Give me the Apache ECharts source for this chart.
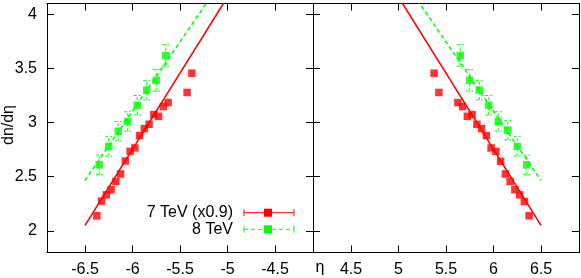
<!DOCTYPE html>
<html>
<head>
<meta charset="utf-8">
<script src="https://cdn.jsdelivr.net/npm/echarts@6/dist/echarts.min.js"></script>
<style>
html,body{margin:0;padding:0;background:#fff;}
#chart{width:581px;height:278px;}
</style>
</head>
<body>
<div id="chart"></div>
<script>
// ---- data ----
const ticksXLeft = [-6.5, -6, -5.5, -5, -4.5];
const ticksXRight = [4.5, 5, 5.5, 6, 6.5];
const ticksY = [2, 2.5, 3, 3.5, 4];

// 7 TeV (x0.9), left panel (negative eta)
const etaRedLeft = [-5.375, -5.425, -5.625, -5.675, -5.725, -5.775, -5.825, -5.875, -5.925, -5.975, -6.025, -6.075, -6.125, -6.175, -6.225, -6.275, -6.325, -6.375];
const dndetaRedLeft = [3.456, 3.278, 3.185, 3.148, 3.058, 3.074, 2.984, 2.944, 2.880, 2.766, 2.734, 2.645, 2.525, 2.456, 2.380, 2.333, 2.275, 2.139];
// 7 TeV (x0.9), right panel
const etaRedRight = [5.375, 5.425, 5.625, 5.675, 5.725, 5.775, 5.825, 5.875, 5.925, 5.975, 6.025, 6.075, 6.125, 6.175, 6.225, 6.275, 6.325, 6.375];
const dndetaRedRight = [3.456, 3.278, 3.185, 3.148, 3.058, 3.074, 2.984, 2.944, 2.880, 2.766, 2.734, 2.642, 2.525, 2.456, 2.380, 2.333, 2.271, 2.139];

// 8 TeV, left panel
const etaGreenLeft = [-5.65, -5.75, -5.85, -5.95, -6.05, -6.15, -6.25, -6.35];
const dndetaGreenLeft = [3.62, 3.39, 3.30, 3.16, 3.01, 2.92, 2.78, 2.61];
const errGreenLeft = [0.10, 0.10, 0.09, 0.09, 0.09, 0.09, 0.09, 0.09];
// 8 TeV, right panel
const etaGreenRight = [5.65, 5.75, 5.85, 5.95, 6.05, 6.15, 6.25, 6.35];
const dndetaGreenRight = [3.62, 3.39, 3.30, 3.16, 3.01, 2.93, 2.78, 2.61];
const errGreenRight = [0.10, 0.10, 0.09, 0.09, 0.09, 0.09, 0.09, 0.09];

// fitted lines (endpoints)
const fitRedLeft = [[-6.5, 2.05], [-5.0, 4.16]];
const fitGreenLeft = [[-6.5, 2.465], [-5.2, 4.13]];
const fitRedRight = [[5.0, 4.16], [6.5, 2.05]];
const fitGreenRight = [[5.2, 4.13], [6.5, 2.465]];

const legendLabels = ['7 TeV (x0.9)', '8 TeV'];
// -------------------------------------

const RED = '#ff0000', GREEN = '#00ff00';
const FONT = '"Liberation Sans", Arial, Helvetica, sans-serif';
const zip = (a, b) => a.map((v, i) => [v, b[i]]);
const errData = (e, y, err) => e.map((v, i) => [v, y[i] - err[i], y[i] + err[i]]);

function errRender(color) {
  return function (params, api) {
    const x = api.value(0), lo = api.value(1), hi = api.value(2);
    const a = api.coord([x, lo]), b = api.coord([x, hi]);
    const hw = 3.5;
    const st = {stroke: color, lineWidth: 1, lineDash: [3, 2]};
    return {type: 'group', children: [
      {type: 'line', shape: {x1: a[0], y1: a[1], x2: b[0], y2: b[1]}, style: st},
      {type: 'line', shape: {x1: a[0] - hw, y1: a[1], x2: a[0] + hw, y2: a[1]}, style: st},
      {type: 'line', shape: {x1: b[0] - hw, y1: b[1], x2: b[0] + hw, y2: b[1]}, style: st}
    ]};
  };
}

const axLine = {show: true, onZero: false, lineStyle: {color: '#000', width: 1}};
function xAx(grid, pos, min, max, ticks, labels) {
  return {
    type: 'value', gridIndex: grid, position: pos, min: min, max: max,
    axisLine: axLine,
    axisTick: {show: true, inside: true, length: 7, customValues: ticks, lineStyle: {color: '#000', width: 1}},
    axisLabel: {show: labels, customValues: ticks, margin: 9, color: '#000', fontSize: 16, fontFamily: FONT,
      formatter: v => String(v)},
    splitLine: {show: false}
  };
}
function yAx(grid, pos, labels) {
  return {
    type: 'value', gridIndex: grid, position: pos, min: 1.8, max: 4.1,
    axisLine: axLine,
    axisTick: {show: true, inside: true, length: 7, customValues: ticksY, lineStyle: {color: '#000', width: 1}},
    axisLabel: {show: labels, customValues: ticksY, margin: 10, color: '#000', fontSize: 16, fontFamily: FONT,
      formatter: v => String(v)},
    splitLine: {show: false}
  };
}

const chart = echarts.init(document.getElementById('chart'), null, {renderer: 'canvas'});
const legendY = [212.7, 229.3];
const legendColors = [RED, GREEN];
const graphics = [
  {type: 'text', x: 8.5, y: 125, rotation: Math.PI / 2,
    style: {text: 'dn/dη', font: '16px ' + FONT, fill: '#000', textAlign: 'center', textVerticalAlign: 'middle'}},
  {type: 'text', x: 320, y: 268,
    style: {text: 'η', font: '16px ' + FONT, fill: '#000', textAlign: 'center', textVerticalAlign: 'middle'}}
];
legendLabels.forEach((t, i) => {
  const y = legendY[i], c = legendColors[i];
  const dash = i === 1 ? [4, 3] : null;
  graphics.push({type: 'text', x: 233, y: y,
    style: {text: t, font: '16px ' + FONT, fill: '#000', textAlign: 'right', textVerticalAlign: 'middle'}});
  graphics.push({type: 'line', shape: {x1: 244, y1: y, x2: 294, y2: y}, style: {stroke: c, lineWidth: 1, lineDash: dash}});
  graphics.push({type: 'line', shape: {x1: 244, y1: y - 3.5, x2: 244, y2: y + 3.5}, style: {stroke: c, lineWidth: 1}});
  graphics.push({type: 'line', shape: {x1: 294, y1: y - 3.5, x2: 294, y2: y + 3.5}, style: {stroke: c, lineWidth: 1}});
  graphics.push({type: 'rect', shape: {x: 264, y: y - 4, width: 8, height: 8}, style: {fill: c}});
});

function panelSeries(xi, yi, fitR, fitG, eR, yR, eG, yG, errG) {
  return [
    {type: 'line', xAxisIndex: xi, yAxisIndex: yi, data: fitR, symbol: 'none', clip: true,
      lineStyle: {color: RED, width: 1.6}, z: 2},
    {type: 'line', xAxisIndex: xi, yAxisIndex: yi, data: fitG, symbol: 'none', clip: true,
      lineStyle: {color: GREEN, width: 1.6, type: [4, 3]}, z: 2},
    {type: 'custom', xAxisIndex: xi, yAxisIndex: yi, data: errData(eG, yG, errG),
      encode: {x: 0, y: [1, 2]}, renderItem: errRender(GREEN), z: 3},
    {type: 'scatter', xAxisIndex: xi, yAxisIndex: yi, data: zip(eR, yR), symbol: 'rect', symbolSize: 7.5,
      itemStyle: {color: RED}, z: 4},
    {type: 'scatter', xAxisIndex: xi, yAxisIndex: yi, data: zip(eG, yG), symbol: 'rect', symbolSize: 7.5,
      itemStyle: {color: GREEN}, z: 4}
  ];
}

chart.setOption({
  animation: false,
  backgroundColor: '#fff',
  grid: [
    {left: 47, top: 3.5, width: 266, height: 249, containLabel: false},
    {left: 313, top: 3.5, width: 266, height: 249, containLabel: false}
  ],
  xAxis: [
    xAx(0, 'bottom', -6.9, -4.1, ticksXLeft, true),
    xAx(0, 'top', -6.9, -4.1, ticksXLeft, false),
    xAx(1, 'bottom', 4.1, 6.9, ticksXRight, true),
    xAx(1, 'top', 4.1, 6.9, ticksXRight, false)
  ],
  yAxis: [
    yAx(0, 'left', true),
    yAx(0, 'right', false),
    yAx(1, 'left', false),
    yAx(1, 'right', false)
  ],
  series: [].concat(
    panelSeries(0, 0, fitRedLeft, fitGreenLeft, etaRedLeft, dndetaRedLeft, etaGreenLeft, dndetaGreenLeft, errGreenLeft),
    panelSeries(2, 2, fitRedRight, fitGreenRight, etaRedRight, dndetaRedRight, etaGreenRight, dndetaGreenRight, errGreenRight)
  ),
  graphic: graphics
});
</script>
</body>
</html>
